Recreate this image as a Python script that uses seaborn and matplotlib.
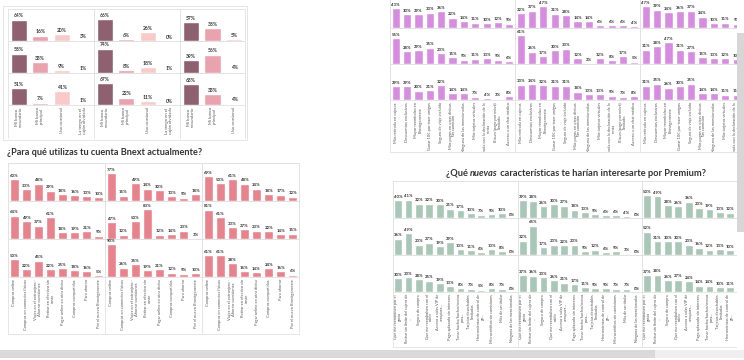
import numpy as np
import pandas as pd
import matplotlib.pyplot as plt
import seaborn as sns
from matplotlib.patches import Rectangle
from matplotlib.transforms import Bbox, TransformedBbox

sns.set_theme(style="white")
plt.rcParams['font.family'] = ['Lato', 'DejaVu Sans']

# -----------------------------
# Data
# -----------------------------

# top left: how do you use the card (3 columns with 4, 4, 3 categories)
uso_labels = ["Mi banco\nsecundario", "Mi banco\nprincipal", "Uso ocasional",
              "La tengo en el\ncajón olvidada"]
uso_col1 = [[64, 16, 20, 3], [58, 33, 9, 1], [51, 7, 41, 1]]
uso_col2 = [[66, 6, 26, 0], [74, 8, 18, 1], [67, 22, 11, 0]]
uso_col3 = [[57, 38, 5], [39, 56, 4], [63, 33, 4]]

# middle left: what do you use Bnext for
para_labels = ["Compras online", "Compras en comercios físicos",
               "Viajes en el extranjero -\nAhorrar comisiones",
               "Retirar en efectivo sin\ncoste", "Pagar online en otra divisa",
               "Compras compartidas", "Para ahorrar", "Por el nuevo Bnextgenerate"]
para_vals = [
    [[60, 33, 48, 29, 18, 16, 13, 10], [77, 15, 49, 34, 30, 13, 9, 18], [69, 50, 61, 48, 34, 18, 17, 12]],
    [[64, 49, 37, 61, 18, 19, 21, 9], [47, 12, 50, 83, 12, 14, 23, 3], [81, 61, 33, 27, 23, 22, 14, 15]],
    [[50, 22, 45, 22, 25, 18, 16, 5], [90, 26, 35, 19, 21, 12, 9, 10], [61, 61, 38, 16, 14, 24, 16, 6]],
]

# top right: features (purple)
feat_labels = ["Más retirada en cajeros", "Descuentos exclusivos",
               "Mayor reembolso en\nBnextgenerate", "Ganar 10€ por traer amigos",
               "Seguro de viaje incluido", "Más pagos en otras divisas\nsin comisión",
               "Ninguna de las mencionadas", "Más tarjetas virtuales",
               "Ayuda con la declaración de la\nrenta", "Bizum (pago por móvil)\nilimitado",
               "Acceso a un chat médico"]
feat_vals = [
    [[43, 30, 29, 33, 36, 22, 14, 11, 10, 12, 9], [32, 37, 47, 31, 28, 14, 14, 6, 6, 6, 4], [47, 39, 34, 36, 37, 24, 10, 11, 9, 8, 6]],
    [[55, 28, 29, 35, 23, 15, 9, 11, 13, 9, 6], [61, 26, 17, 30, 33, 12, 2, 12, 8, 17, 5], [31, 38, 47, 31, 27, 15, 13, 12, 10, 9, 6]],
    [[29, 29, 20, 21, 32, 14, 14, 7, 4, 3, 8], [33, 34, 32, 31, 31, 18, 13, 13, 9, 7, 8], [31, 35, 26, 30, 35, 14, 14, 11, 11, 9, 7]],
]

# bottom right: new premium features (green)
prem_labels = ["Que me reembolsen por el\ngasto", "Retirar sin límite del cajero de\n...",
               "Seguro de compra", "Que me reembolsen con el\nsaldo",
               "Acceso a salas VIP de\naeropuer...", "Pago aplazado sin intereses",
               "Tener hucha/huchas/metas\npara...", "Tarjetas desechables\nilimitadas",
               "Herramientas de control de\nga...", "Microcréditos sin comisiones",
               "Más de un titular", "Ninguna de las mencionadas"]
prem_vals = [
    [[40, 41, 32, 32, 30, 21, 17, 10, 7, 9, 10, 0], [39, 38, 26, 30, 27, 18, 13, 9, 6, 6, 4, 0], [50, 49, 28, 26, 36, 23, 19, 13, 12, 9, 6, 0]],
    [[36, 49, 23, 27, 19, 29, 13, 11, 6, 13, 8, 0], [32, 65, 17, 23, 22, 23, 9, 12, 6, 9, 3, 0], [52, 31, 30, 30, 23, 16, 12, 13, 10, 8, 5, 0]],
    [[30, 33, 28, 25, 19, 13, 8, 7, 5, 8, 7, 0], [37, 36, 33, 26, 21, 17, 11, 9, 9, 7, 7, 0], [37, 38, 26, 27, 24, 14, 14, 10, 11, 8, 6, 0]],
]

# -----------------------------
# Figure helpers
# -----------------------------

W, H = 744, 360
fig = plt.figure(figsize=(7.44, 3.6), dpi=100)
fig.patch.set_facecolor("white")
GRID = "#E2E2E2"


def px_axes(x, y, w, h):
    return fig.add_axes([x / W, 1 - (y + h) / H, w / W, h / H])


def px_rect(x, y, w, h, **kw):
    fig.patches.append(Rectangle((x / W, 1 - (y + h) / H), w / W, h / H,
                                 transform=fig.transFigure, **kw))


def px_vline(x, y0, y1):
    fig.add_artist(plt.Line2D([x / W, x / W], [1 - y0 / H, 1 - y1 / H],
                              transform=fig.transFigure, color=GRID, lw=0.6))


def clip_box(x, y, w, h):
    return TransformedBbox(Bbox([[x / W, 1 - (y + h) / H], [(x + w) / W, 1 - y / H]]),
                           fig.transFigure)


def small_bars(ax, labels, vals, color=None, palette=None, ymax=100, width=0.75,
               show_labels=False, vsize=3.4, lsize=3.1, clip=None):
    df = pd.DataFrame({"cat": labels[:len(vals)], "pct": vals})
    if palette is not None:
        sns.barplot(data=df, x="cat", y="pct", hue="cat", palette=palette[:len(vals)],
                    legend=False, ax=ax, width=width, saturation=1)
    else:
        sns.barplot(data=df, x="cat", y="pct", color=color, ax=ax, width=width,
                    saturation=1)
    for cont in ax.containers:
        labs = ax.bar_label(cont, fmt="%d%%", fontsize=vsize, fontweight="bold",
                            color="#333333", padding=1)
        if clip is not None:
            for t in labs:
                t.set_clip_box(clip)
                t.set_clip_on(True)
    ax.set_ylim(0, ymax)
    ax.set_xlabel("")
    ax.set_ylabel("")
    ax.set_yticks([])
    ax.tick_params(axis="x", length=0, pad=1.5)
    if show_labels:
        ax.set_xticks(range(len(vals)))
        ax.set_xticklabels(labels[:len(vals)], rotation=90, fontsize=lsize,
                           color="#555555", linespacing=0.95)
        if clip is not None:
            for t in ax.get_xticklabels():
                t.set_clip_box(clip)
                t.set_clip_on(True)
    else:
        ax.set_xticklabels([])
    for s in ax.spines.values():
        s.set_color(GRID)
        s.set_linewidth(0.6)
    ax.patch.set_alpha(0)


# -----------------------------
# Top left block
# -----------------------------

uso_pal = ["#8E6070", "#EBA2AF", "#F8CBCA", "#F4DCDC"]
px_rect(3, 6, 244, 134, fill=False, ec=GRID, lw=0.6)
cols_a = [(8, 86, uso_col1), (94, 86, uso_col2), (180, 65, uso_col3)]
for c, (x, w, col) in enumerate(cols_a):
    px_vline(x, 105, 138)
    for r in range(3):
        ax = px_axes(x, 9 + r * 32, w, 32)
        small_bars(ax, uso_labels, col[r], palette=uso_pal, ymax=97,
                   show_labels=(r == 2), vsize=3.6, lsize=3.1)
px_vline(245, 105, 138)

# -----------------------------
# Middle left block
# -----------------------------

fig.text(7 / W, 1 - 152 / H, "¿Para qué utilizas tu cuenta Bnext actualmente?",
         fontsize=6.6, fontweight="bold", color="#333333", va="center", ha="left")
px_rect(8, 163, 291, 171, fill=False, ec=GRID, lw=0.6)
for c in range(1, 3):
    px_vline(8 + c * 97, 277, 334)
for r in range(3):
    for c in range(3):
        ax = px_axes(8 + c * 97, 163 + r * 38, 97, 38)
        small_bars(ax, para_labels, para_vals[r][c], color="#E8838D", ymax=105,
                   show_labels=(r == 2), vsize=3.2, lsize=2.9)

# -----------------------------
# Top right block
# -----------------------------

clip_c = clip_box(390, 0, 347, 152)
px_rect(390, -8, 380, 160, fill=False, ec=GRID, lw=0.6)
for c in range(1, 3):
    px_vline(390 + c * 125, 100, 152)
for r in range(3):
    for c in range(3):
        ax = px_axes(390 + c * 125, -8 + r * 36, 125, 36)
        small_bars(ax, feat_labels, feat_vals[r][c], color="#D78DDF", ymax=77,
                   width=0.72, show_labels=(r == 2), vsize=3.1, lsize=2.9,
                   clip=clip_c)

# -----------------------------
# Bottom right block
# -----------------------------

renderer = fig.canvas.get_renderer()
x_title = 446 / W
for part, st in [("¿Qué ", "normal"), ("nuevas", "italic"),
                 (" características te harían interesarte por Premium?", "normal")]:
    t = fig.text(x_title, 1 - 173 / H, part, fontsize=6.7, fontweight="bold",
                 style=st, color="#333333", va="center", ha="left")
    bb = t.get_window_extent(renderer)
    x_title = bb.x1 / fig.bbox.width

clip_d = clip_box(393, 185, 344, 162)
px_rect(393, 181, 380, 166, fill=False, ec=GRID, lw=0.6)
for c in range(1, 3):
    px_vline(393 + c * 124.5, 292, 347)
for r in range(3):
    for c in range(3):
        ax = px_axes(393 + c * 124.5, 181 + r * 37, 124.5, 37)
        small_bars(ax, prem_labels, prem_vals[r][c], color="#A9C7B6", ymax=82,
                   width=0.75, show_labels=(r == 2), vsize=3.1, lsize=2.8,
                   clip=clip_d)

# -----------------------------
# Right edge and scroll bars
# -----------------------------

px_rect(737, 0, 7, 350, color="white", lw=0, zorder=10)
px_rect(737, 33, 7, 199, color="#D6D6D6", lw=0, zorder=11)
px_rect(0, 350, 655, 8, color="#D9D9D9", lw=0, zorder=11)
px_rect(655, 350, 89, 8, color="#EFEFEF", lw=0, zorder=11)

fig.savefig("out.png", dpi=100, facecolor="white")
